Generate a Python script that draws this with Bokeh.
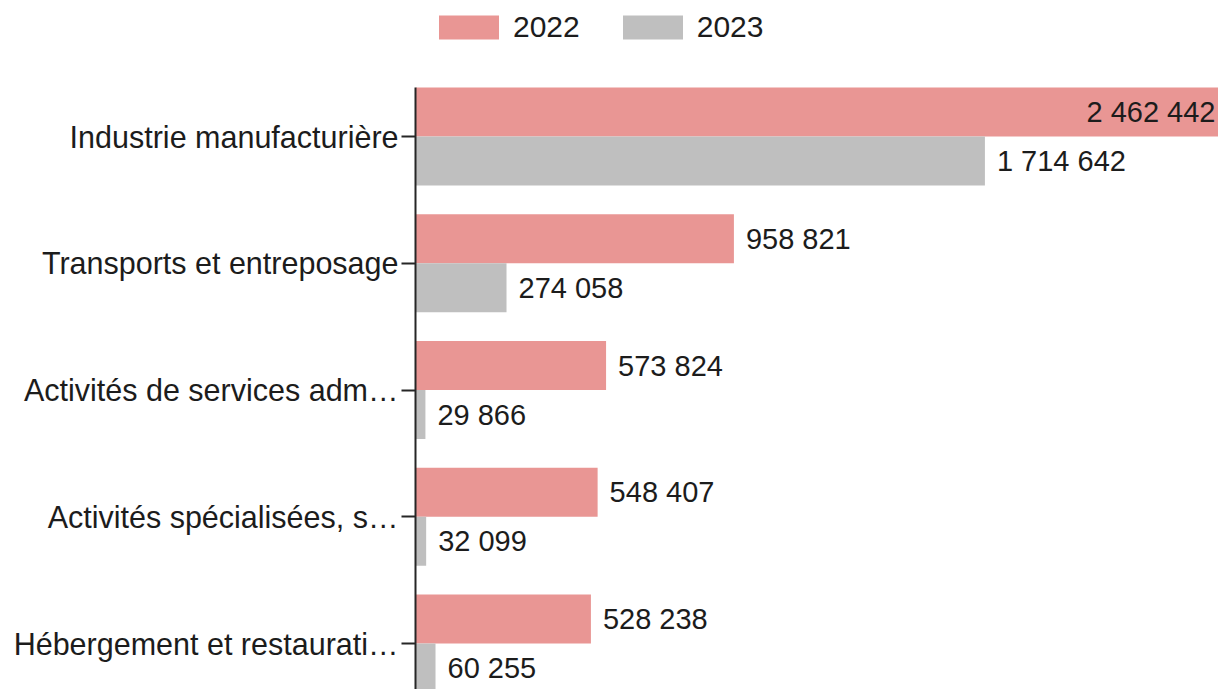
from bokeh.plotting import figure
from bokeh.models import ColumnDataSource, Range1d, FixedTicker, Legend, LegendItem
from bokeh.embed import file_html
from bokeh.resources import INLINE
from bokeh.core.properties import value

categories = ["Industrie manufacturière", "Transports et entreposage",
              "Activités de services adm…", "Activités spécialisées, s…",
              "Hébergement et restaurati…"]
series_names = ["2022", "2023"]
values_2022 = [2462442, 958821, 573824, 548407, 528238]
values_2023 = [1714642, 274058, 29866, 32099, 60255]

COLORS = ["#E99694", "#BFBFBF"]
FONT = "Liberation Sans"
TXT = "#1c1c1c"
X_MAX = 2418000
BAR_H = 0.3866
Y_START, Y_END = -0.3629, 5.0730
AXIS_TOP = 4.3866

n = len(categories)
pos = [n - 1 - i for i in range(n)]


def fmt(v):
    return f"{v:,}".replace(",", " ")


p = figure(width=1218, height=689, output_backend="svg", toolbar_location=None,
           x_range=Range1d(0, X_MAX), y_range=Range1d(Y_START, Y_END),
           x_axis_location=None,
           min_border_left=415, min_border_right=0, min_border_top=0, min_border_bottom=0)

renderers = []
for k, vals in enumerate([values_2022, values_2023]):
    sign = 1 if k == 0 else -1
    ys = [q + sign * BAR_H / 2 for q in pos]
    src = ColumnDataSource(dict(y=ys, right=vals))
    r = p.hbar(y="y", left=0, right="right", height=BAR_H, fill_color=COLORS[k],
               line_color=None, source=src)
    renderers.append(r)
    out_x = [v for v in vals if v <= X_MAX]
    out_y = [y for v, y in zip(vals, ys) if v <= X_MAX]
    out_t = [fmt(v) for v in vals if v <= X_MAX]
    p.text(x=out_x, y=out_y, text=out_t, x_offset=12, text_align="left",
           text_baseline="middle", text_font=value(FONT), text_font_size="29px",
           text_color=TXT)
    in_y = [y for v, y in zip(vals, ys) if v > X_MAX]
    in_t = [fmt(v) for v in vals if v > X_MAX]
    if in_t:
        p.text(x=[X_MAX] * len(in_t), y=in_y, text=in_t, x_offset=-3, text_align="right",
               text_baseline="middle", text_font=value(FONT), text_font_size="29px",
               text_color=TXT)

p.yaxis.ticker = FixedTicker(ticks=pos)
p.yaxis.bounds = (Y_START, AXIS_TOP)
p.yaxis.major_label_overrides = {q: c for q, c in zip(pos, categories)}
p.yaxis.major_label_text_font = FONT
p.yaxis.major_label_text_font_size = "30.5px"
p.yaxis.major_label_text_color = TXT
p.yaxis.major_label_standoff = 3
p.yaxis.minor_tick_line_color = None
p.yaxis.major_tick_in = 0
p.yaxis.major_tick_out = 14
p.yaxis.major_tick_line_width = 2
p.yaxis.major_tick_line_color = "#262626"
p.yaxis.axis_line_width = 2
p.yaxis.axis_line_color = "#262626"

p.xgrid.visible = False
p.ygrid.visible = False
p.outline_line_color = None

legend = Legend(items=[LegendItem(label=series_names[0], renderers=[renderers[0]]),
                       LegendItem(label=series_names[1], renderers=[renderers[1]])],
                orientation="horizontal", location=(16, 645), margin=0, padding=0,
                spacing=35, glyph_width=75, glyph_height=30, label_standoff=7,
                label_text_font=FONT, label_text_font_size="30px", label_text_color=TXT,
                border_line_color=None, background_fill_alpha=0)
p.add_layout(legend, "center")

open("out.html", "w").write(file_html(p, INLINE))
